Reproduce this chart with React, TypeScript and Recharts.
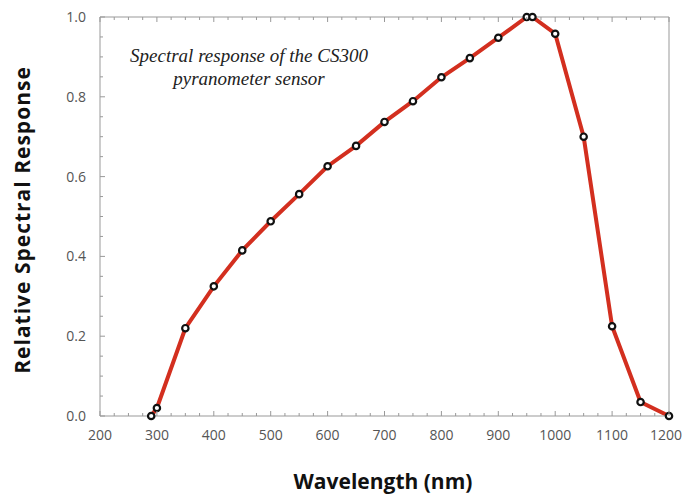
import React from 'react';
import { LineChart, Line, XAxis, YAxis } from 'recharts';

const wavelengths = [290, 300, 350, 400, 450, 500, 550, 600, 650, 700, 750, 800, 850, 900, 950, 960, 1000, 1050, 1100, 1150, 1200];
const response = [0, 0.02, 0.22, 0.325, 0.415, 0.488, 0.556, 0.626, 0.677, 0.737, 0.789, 0.849, 0.897, 0.948, 1.0, 1.0, 0.958, 0.7, 0.225, 0.035, 0];
const xTicks = [200, 225, 250, 275, 300, 325, 350, 375, 400, 425, 450, 475, 500, 525, 550, 575, 600, 625, 650, 675, 700, 725, 750, 775, 800, 825, 850, 875, 900, 925, 950, 975, 1000, 1025, 1050, 1075, 1100, 1125, 1150, 1175, 1200];
const yTicks = [0, 0.05, 0.1, 0.15, 0.2, 0.25, 0.3, 0.35, 0.4, 0.45, 0.5, 0.55, 0.6, 0.65, 0.7, 0.75, 0.8, 0.85, 0.9, 0.95, 1.0];
const titleLines = ['Spectral response of the CS300', 'pyranometer sensor'];
const xTitle = 'Wavelength (nm)';
const yTitle = 'Relative Spectral Response';

const data = wavelengths.map((w, i) => ({ w, r: response[i] }));

const isMajorX = (v: number) => v % 100 === 0;
const isMajorY = (v: number) => Math.abs(v * 5 - Math.round(v * 5)) < 1e-6;

const TICK_COLOR = '#999';
const LABEL_COLOR = '#555';
const FONT = '"Open Sans", "Noto Sans", sans-serif';

const BottomTick = (props: any) => {
  const { x, y, payload, index, visibleTicksCount } = props;
  const major = isMajorX(payload.value);
  const last = payload.value === 1200;
  return (
    <g>
      <line x1={x} y1={y} x2={x} y2={y - (major ? 5 : 3)} stroke={TICK_COLOR} strokeWidth={1} />
      {major && (
        <text
          x={last ? x + 13 : x}
          y={y + 24}
          textAnchor={last ? 'end' : 'middle'}
          fontSize={14}
          fontFamily={FONT}
          fill={LABEL_COLOR}
        >
          {payload.value}
        </text>
      )}
    </g>
  );
};

const TopTick = (props: any) => {
  const { x, y, payload } = props;
  const major = isMajorX(payload.value);
  return <line x1={x} y1={y} x2={x} y2={y + (major ? 5 : 3)} stroke={TICK_COLOR} strokeWidth={1} />;
};

const LeftTick = (props: any) => {
  const { x, y, payload } = props;
  const major = isMajorY(payload.value);
  return (
    <g>
      <line x1={x} y1={y} x2={x + (major ? 5 : 3)} y2={y} stroke={TICK_COLOR} strokeWidth={1} />
      {major && (
        <text x={x - 14} y={y + 5} textAnchor="end" fontSize={14} fontFamily={FONT} fill={LABEL_COLOR}>
          {payload.value.toFixed(1)}
        </text>
      )}
    </g>
  );
};

const RightTick = (props: any) => {
  const { x, y, payload } = props;
  const major = isMajorY(payload.value);
  return <line x1={x} y1={y} x2={x - (major ? 5 : 3)} y2={y} stroke={TICK_COLOR} strokeWidth={1} />;
};

export default function App() {
  return (
    <div style={{ position: 'absolute', left: 0, top: 0, width: 683, height: 495, background: '#fff' }}>
      <LineChart width={683} height={495} data={data} margin={{ top: 16, right: 13, left: 0, bottom: 0 }}>
        <XAxis
          xAxisId="bottom"
          dataKey="w"
          type="number"
          domain={[200, 1200]}
          ticks={xTicks}
          interval={0}
          height={79}
          tickSize={0}
          tickMargin={0}
          tickLine={false}
          tick={<BottomTick />}
          axisLine={{ stroke: TICK_COLOR, strokeWidth: 1 }}
          label={{
            content: () => (
              <text x={383} y={489} textAnchor="middle" fontSize={21} fontWeight="bold" fontFamily={FONT} fill="#111">
                {xTitle}
              </text>
            ),
          }}
        />
        <XAxis
          xAxisId="top"
          orientation="top"
          dataKey="w"
          type="number"
          domain={[200, 1200]}
          ticks={xTicks}
          interval={0}
          height={1}
          tickSize={0}
          tickMargin={0}
          tickLine={false}
          tick={<TopTick />}
          axisLine={{ stroke: TICK_COLOR, strokeWidth: 1 }}
          label={{
            content: () => (
              <text textAnchor="middle" fontSize={19} fontStyle="italic" fontFamily='"Liberation Serif", "DejaVu Serif", serif' fill="#222">
                <tspan x={249} y={62}>{titleLines[0]}</tspan>
                <tspan x={249} y={85}>{titleLines[1]}</tspan>
              </text>
            ),
          }}
        />
        <YAxis
          yAxisId="left"
          type="number"
          domain={[0, 1]}
          ticks={yTicks}
          interval={0}
          width={100}
          tickSize={0}
          tickMargin={0}
          tickLine={false}
          tick={<LeftTick />}
          axisLine={{ stroke: TICK_COLOR, strokeWidth: 1 }}
          label={{
            content: () => (
              <text
                x={22}
                y={220}
                transform="rotate(-90 22 220)"
                textAnchor="middle"
                dominantBaseline="central"
                fontSize={21}
                letterSpacing={1}
                fontWeight="bold"
                fontFamily={FONT}
                fill="#111"
              >
                {yTitle}
              </text>
            ),
          }}
        />
        <YAxis
          yAxisId="right"
          orientation="right"
          type="number"
          domain={[0, 1]}
          ticks={yTicks}
          interval={0}
          width={1}
          tickSize={0}
          tickMargin={0}
          tickLine={false}
          tick={<RightTick />}
          axisLine={{ stroke: TICK_COLOR, strokeWidth: 1 }}
        />
        <Line
          xAxisId="bottom"
          yAxisId="left"
          type="linear"
          dataKey="r"
          stroke="#d32f1f"
          strokeWidth={4}
          dot={{ r: 3.2, stroke: '#111', strokeWidth: 2.2, fill: '#fff' }}
          isAnimationActive={false}
        />
      </LineChart>
    </div>
  );
}
